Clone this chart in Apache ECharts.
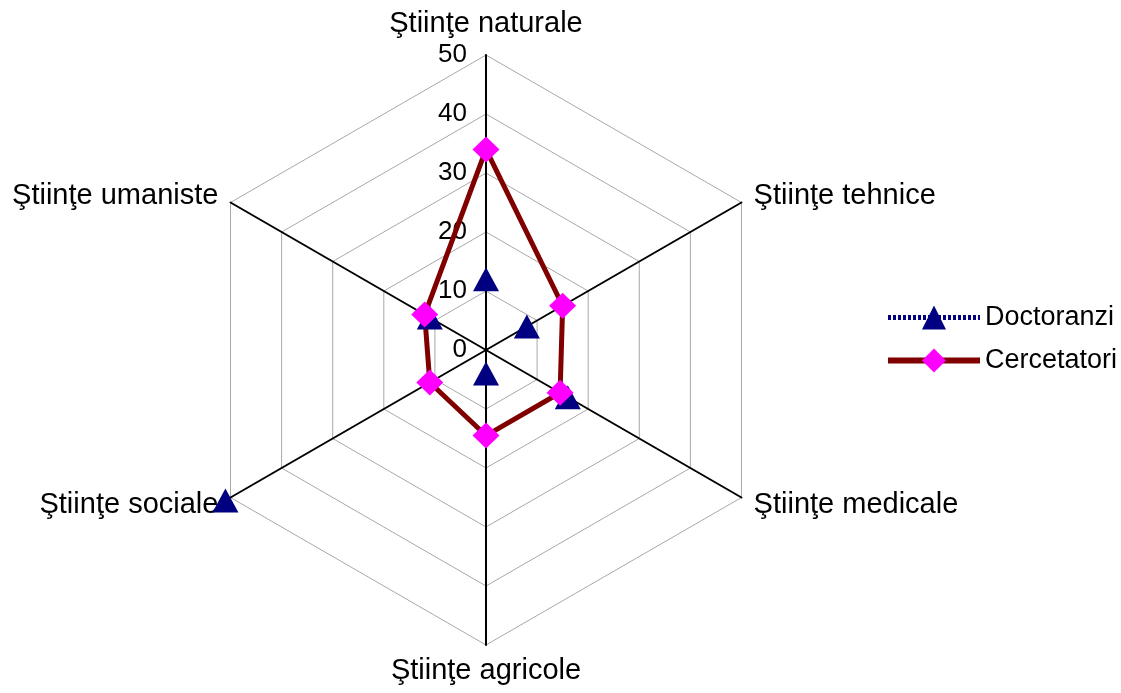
<!DOCTYPE html>
<html>
<head>
<meta charset="utf-8">
<script src="https://cdn.jsdelivr.net/npm/echarts@6/dist/echarts.min.js"></script>
<style>
  html, body { margin: 0; padding: 0; background: #fff; }
  #chart { width: 1121px; height: 693px; }
</style>
</head>
<body>
<div id="chart"></div>
<script>
// categories, clockwise from the top as in the original
let categories = ["Ştiinţe naturale", "Ştiinţe tehnice", "Ştiinţe medicale", "Ştiinţe agricole", "Ştiinţe sociale", "Ştiinţe umaniste"];
let doctoranzi = [12, 8, 16, 4, 51, 11];
let cercetatori = [34, 15, 14.5, 14.5, 11, 12];
let seriesNames = ["Doctoranzi", "Cercetatori"];
let axisMax = 50;

// echarts lays radar indicators out counter-clockwise, so flip the order
function ccw(arr) {
    return [arr[0]].concat(arr.slice(1).reverse());
}

let font = "Liberation Sans";
let chart = echarts.init(document.getElementById("chart"));

let indicators = ccw(categories).map(function (name, i) {
    let ind = {name: name, min: 0, max: axisMax};
    // only the top axis carries the value labels
    ind.axisLabel = {show: i === 0};
    if (i === 0) ind.nameGap = 17;
    if (i === 3) ind.nameGap = 11;
    return ind;
});

let option = {
    animation: false,
    textStyle: {fontFamily: font},
    legend: {
        orient: "vertical",
        left: 880,
        top: 299,
        itemWidth: 92,
        itemHeight: 30,
        itemGap: 16,
        data: [
            {name: seriesNames[0], lineStyle: {color: "#000080", width: 5, type: [3, 2]}},
            {name: seriesNames[1], lineStyle: {color: "#800000", width: 6}}
        ],
        textStyle: {fontSize: 27, color: "#000", fontFamily: font}
    },
    // hidden cartesian grid, only used so the legend shows line + marker icons
    grid: {left: 0, top: 0, width: 1, height: 1, show: false},
    xAxis: {show: false, type: "category", data: []},
    yAxis: {show: false, type: "value"},
    radar: {
        center: [486, 350],
        radius: 295,
        startAngle: 90,
        shape: "polygon",
        splitNumber: 5,
        indicator: indicators,
        axisName: {color: "#000", fontSize: 29, fontFamily: font},
        nameGap: 14,
        axisLine: {lineStyle: {color: "#000", width: 2}},
        axisTick: {show: false},
        axisLabel: {show: false, color: "#000", fontSize: 26, fontFamily: font, margin: 19},
        splitLine: {lineStyle: {color: "#a8a8a8", width: 1}},
        splitArea: {show: false}
    },
    series: [
        {
            type: "radar",
            data: [
                {
                    name: seriesNames[0],
                    value: ccw(doctoranzi),
                    symbol: "triangle",
                    symbolSize: [26, 24],
                    itemStyle: {color: "#000080"},
                    lineStyle: {opacity: 0, width: 0}
                },
                {
                    name: seriesNames[1],
                    value: ccw(cercetatori),
                    symbol: "diamond",
                    symbolSize: [27, 26],
                    itemStyle: {color: "#ff00ff"},
                    lineStyle: {color: "#800000", width: 5}
                }
            ]
        },
        {
            name: seriesNames[0],
            type: "line",
            data: [],
            symbol: "triangle",
            itemStyle: {color: "#000080"},
            lineStyle: {color: "#000080", width: 5, type: [3, 2]}
        },
        {
            name: seriesNames[1],
            type: "line",
            data: [],
            symbol: "diamond",
            itemStyle: {color: "#ff00ff"},
            lineStyle: {color: "#800000", width: 6}
        }
    ]
};
chart.setOption(option);
</script>
</body>
</html>
